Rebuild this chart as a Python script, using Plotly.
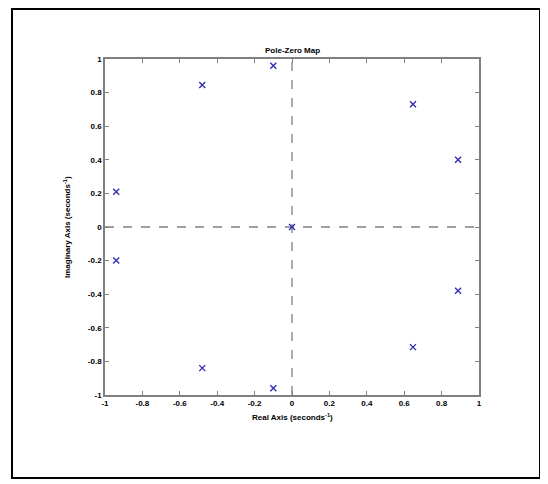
import plotly.graph_objects as go

pole_re = [-0.10, -0.48, 0.647, 0.888, -0.94, -0.94, 0.888, 0.647, -0.48, -0.10, 0.0]
pole_im = [0.96, 0.845, 0.73, 0.40, 0.21, -0.20, -0.38, -0.715, -0.84, -0.96, 0.0]
tick_vals = [-1, -0.8, -0.6, -0.4, -0.2, 0, 0.2, 0.4, 0.6, 0.8, 1]
tick_text = ["-1", "-0.8", "-0.6", "-0.4", "-0.2", "0", "0.2", "0.4", "0.6", "0.8", "1"]

OFF = 8  # page body margin
W, H = 548, 484
# plot area in screen pixels: x 105..479, y 59..395
L = 105 - OFF
T = 59 - OFF
R = W - (479 - OFF)
B = H - (395 - OFF)
pw, ph = W - L - R, H - T - B

fig = go.Figure()
fig.add_trace(go.Scatter(
    x=pole_re, y=pole_im, mode="markers",
    marker=dict(symbol="x-thin", size=6, line=dict(color="#3030b0", width=1.4)),
    showlegend=False, cliponaxis=False,
))
fig.add_vline(x=0, line=dict(color="#808080", width=1.3, dash="dash"), layer="below")
fig.add_hline(y=0, line=dict(color="#808080", width=1.3, dash="dash"), layer="below")

ax = dict(
    range=[-1, 1], tickvals=tick_vals, ticktext=tick_text,
    ticks="inside", ticklen=4, tickwidth=1, tickcolor="#808080",
    showline=True, linecolor="#808080", linewidth=1.5, mirror="ticks",
    showgrid=False, zeroline=False,
    tickfont=dict(family="Liberation Sans, Arial", size=8, color="black", weight="bold"),
)
fig.update_layout(
    width=W, height=H,
    margin=dict(l=L, r=R, t=T, b=B, autoexpand=False),
    paper_bgcolor="white", plot_bgcolor="white",
    xaxis=dict(ax), yaxis=dict(ax),
    font=dict(family="Liberation Sans, Arial", size=8, color="black"),
)

def px(xs):
    return (xs - OFF - L) / pw

def py(ys):
    return (H - B - (ys - OFF)) / ph

fig.add_shape(type="rect", xref="paper", yref="paper",
              x0=px(12), x1=px(540), y0=py(478), y1=py(9),
              line=dict(color="black", width=2), layer="below")

fig.add_annotation(text="<b>Pole-Zero Map</b>", xref="paper", yref="paper",
                   x=0.5, y=py(44), showarrow=False, font=dict(size=8))
fig.add_annotation(text="<b>Real Axis (seconds<sup>-1</sup>)</b>", xref="paper", yref="paper",
                   x=0.5, y=py(424), showarrow=False, font=dict(size=8))
fig.add_annotation(text="<b>Imaginary Axis (seconds<sup>-1</sup>)</b>", xref="paper", yref="paper",
                   x=px(60), y=0.5, showarrow=False, textangle=-90, font=dict(size=8))

fig.write_html("out.html")
